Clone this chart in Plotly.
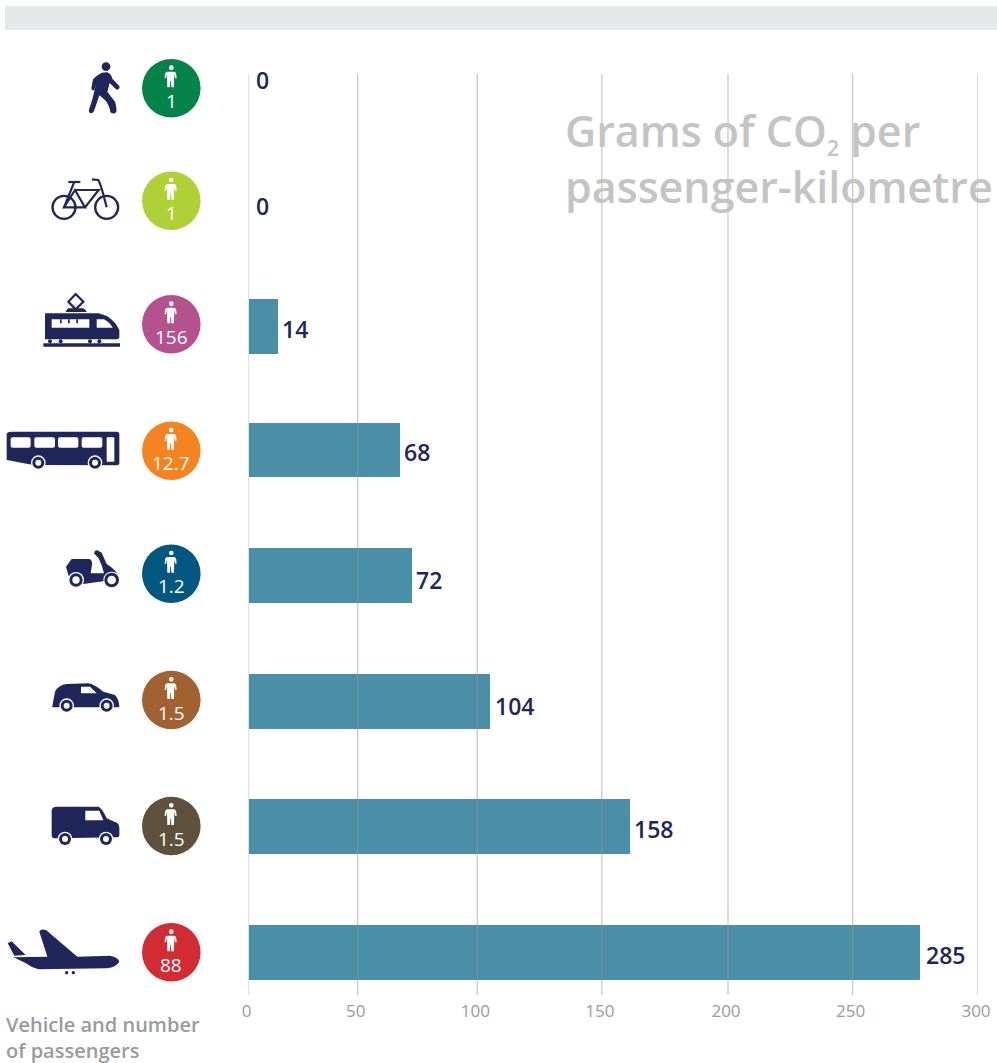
import re
import numpy as np
import plotly.graph_objects as go

# ---------- data ----------
modes = ["Walking", "Cycling", "Train", "Bus", "Scooter", "Car", "Van", "Plane"]
co2_labels = [0, 0, 14, 68, 72, 104, 158, 285]
# bar ends as read against the printed axis ticks
co2_drawn = [0, 0, 13.1, 67.3, 72.3, 105, 160.8, 276.6]
passengers = ["1", "1", "156", "12.7", "1.2", "1.5", "1.5", "88"]
tick_labels = [0, 50, 100, 150, 200, 250, 300]
passenger_colors = ["#05824a", "#afd136", "#b4528f", "#f58420", "#00577f", "#9f6230", "#5d513b", "#d22b33"]

# ---------- layout constants (pixels) ----------
W, H = 997, 1063
NAVY = "#20265a"
PLOT_L, PLOT_R, PLOT_T, PLOT_B = 248.5, 978, 74, 995
tick_offsets = [0, 109.2, 228.8, 353.3, 479.5, 604.1, 729.5]   # printed ticks are unevenly spaced
bar_rows = [80, 207, 326.8, 450, 575.7, 701.3, 826.7, 952.7]
label_rows = [79.5, 206, 329, 451.5, 580, 706, 829, 955]
circle_rows = [88.3, 200.7, 324.3, 450.7, 573.7, 700, 826, 952.3]
CIRCLE_X = 171.3
zero_pad = 5.5


def px(x):
    return x / W


def py(y):
    return 1 - y / H


def to_paper(d, ox, oy, s):
    toks = re.findall(r"[MLQCZ]|-?\d+\.?\d*", d)
    out = []
    pair = []
    for t in toks:
        if t in "MLQCZ":
            out.append(t)
        else:
            pair.append(float(t))
            if len(pair) == 2:
                out.append(f"{px(ox + pair[0] * s):.5f},{py(oy + pair[1] * s):.5f}")
                pair = []
    return " ".join(out)


shapes = []


def path(d, ox=0, oy=0, s=1 / 3, color=NAVY, line=None):
    shapes.append(dict(type="path", xref="paper", yref="paper", path=to_paper(d, ox, oy, s),
                       fillcolor=color if line is None else "rgba(0,0,0,0)",
                       line=dict(width=0 if line is None else line, color=color)))


def circle(cx, cy, r, ox=0, oy=0, s=1 / 3, color=NAVY):
    X, Y, R = ox + cx * s, oy + cy * s, r * s
    shapes.append(dict(type="circle", xref="paper", yref="paper", x0=px(X - R), x1=px(X + R),
                       y0=py(Y + R), y1=py(Y - R), fillcolor=color, line=dict(width=0)))


def wheel(cx, cy, ox, oy, outer=22, mid=18, hub=9):
    circle(cx, cy, outer, ox, oy, color="white")
    circle(cx, cy, mid, ox, oy)
    circle(cx, cy, hub, ox, oy, color="white")


def rrect(x0, y0, x1, y1, r=6):
    return (f"M{x0 + r},{y0} L{x1 - r},{y0} Q{x1},{y0} {x1},{y0 + r} L{x1},{y1 - r} Q{x1},{y1} {x1 - r},{y1} "
            f"L{x0 + r},{y1} Q{x0},{y1} {x0},{y1 - r} L{x0},{y0 + r} Q{x0},{y0} {x0 + r},{y0} Z")


# top band
shapes.append(dict(type="rect", xref="paper", yref="paper", x0=px(5), x1=1, y0=py(30), y1=py(6),
                   fillcolor="#e6e7e8", line=dict(width=0)))

# gridlines (above the bars, semi-transparent)
for off in tick_offsets:
    shapes.append(dict(type="line", xref="x", yref="paper", x0=off, x1=off, y0=py(PLOT_B), y1=py(PLOT_T),
                       line=dict(color="rgba(150,150,150,0.52)", width=1.3), layer="above"))

# walker
circle(318, 200, 13)
path("M305,218 L322,217 Q333,221 337,236 L358,258 Q361,268 350,269 L329,249 L322,275 L345,305 Q351,325 349,336 "
     "Q340,345 331,336 Q328,315 315,300 L298,286 L286,322 L280,337 Q270,345 266,332 L278,295 L288,252 L283,270 "
     "Q276,274 274,265 L279,238 Q290,226 305,218 Z")
# bicycle
for cx in (192, 320):
    circle(cx, 622, 38)
    circle(cx, 622, 31, color="white")
for seg in ["M192,622 L255,622 L225,570 Z", "M225,570 L296,570 L255,622", "M222,548 L192,622",
            "M205,546 L241,546", "M276,538 L294,540 Q301,545 320,622"]:
    path(seg, line=2.2)
# train
path("M227,882 L250,905 L227,928 L205,905 Z", line=2.2)
path("M205,925 L250,925 Q258,928 260,936 L197,936 Q199,928 205,925 Z")
path("M135,940 L296,940 Q340,950 358,990 L358,1012 Q358,1018 350,1018 L135,1018 Z")
path("M155,958 L268,958 L268,983 L155,983 Z", color="white")
for x in (180, 204, 229):
    path(f"M{x},958 L{x + 5},958 L{x + 5},970 L{x},970 Z")
path("M290,958 L312,958 Q330,968 338,983 L290,983 Z", color="white")
path("M130,1030 L360,1030 L360,1040 L130,1040 Z")
for x in (150, 182, 270, 298):
    circle(x, 1024, 6)
# bus
o = (0, 410)
path("M20,72 Q22,65 35,65 L352,65 Q358,66 358,72 L358,160 Q358,166 350,166 L100,165 L20,150 Z", *o)
for a, b in ((32, 92), (103, 165), (174, 235), (245, 307)):
    path(rrect(a, 82, b, 113), *o, color="white")
path(rrect(320, 82, 343, 155, 3), *o, color="white")
wheel(115, 158, *o)
wheel(285, 158, *o)
# scooter
path("M198,470 L215,447 L268,447 Q280,452 275,470 L272,490 L312,490 Q308,470 296,445 L283,431 Q281,422 292,421 "
     "L305,428 L320,462 Q350,480 358,505 L320,512 L250,522 L215,518 L205,495 Z", *o)
wheel(228, 510, *o, outer=24, mid=20, hub=11)
wheel(335, 510, *o, outer=25, mid=22, hub=13)
# car
path("M157,888 L165,845 Q175,825 200,822 L265,820 Q282,822 310,845 L345,855 Q358,870 358,892 L157,892 Z", *o)
path("M243,830 L270,830 L290,850 L243,850 Z", *o, color="white")
wheel(200, 887, *o)
wheel(320, 887, *o)
# van
o = (0, 780)
path("M155,90 Q158,80 170,80 L295,80 Q305,82 320,115 L350,128 Q358,132 358,145 L358,165 Q358,172 350,172 "
     "L165,175 Q155,175 155,165 Z", *o)
path("M256,92 L298,92 L310,121 L256,121 Z", *o, color="white")
wheel(195, 177, *o)
wheel(318, 177, *o)
# plane
path("M40,532 L142,530 L118,455 Q122,445 138,450 L232,530 L330,527 Q355,532 358,545 Q350,560 320,565 L115,568 "
     "Q95,562 75,548 Z", *o)
path("M23,490 L35,484 L77,525 L43,527 Z", *o)
circle(200, 578, 5, *o)
circle(220, 578, 5, *o)

# passenger figures
for cy in circle_rows:
    circle(0, -62, 7, CIRCLE_X, cy, color="white")
    path("M-12,-50 L8,-50 Q14,-49 15,-42 L16,-30 L12,-30 L9,-42 L8,-3 L0,-3 L-1,-22 L-3,-22 L-4,-3 L-12,-3 L-13,-42 "
         "L-16,-30 L-20,-30 L-19,-42 Q-18,-49 -12,-50 Z", CIRCLE_X, cy, color="white")

# ---------- traces ----------
bar_x = np.interp(co2_drawn, tick_labels, tick_offsets)

fig = go.Figure()
fig.add_trace(go.Bar(x=bar_x, y=bar_rows, width=54.7, orientation="h", name="g CO2 per passenger-km",
                     customdata=modes, marker=dict(color="#4a8ea8", line=dict(width=0)),
                     hovertemplate="%{customdata}<extra></extra>"))
fig.add_trace(go.Scatter(x=[CIRCLE_X] * len(modes), y=circle_rows, xaxis="x2", mode="markers",
                         marker=dict(size=58.6, color=passenger_colors, line=dict(width=0)),
                         customdata=modes, hovertemplate="%{customdata}<extra></extra>", cliponaxis=False))

annotations = []
for m, lab, x, y in zip(modes, co2_labels, bar_x, label_rows):
    annotations.append(dict(x=x, y=y, xref="x", yref="y", text=str(lab), showarrow=False, xanchor="left",
                            yanchor="middle", xshift=zero_pad if lab == 0 else (5 if lab == 285 else 3),
                            font=dict(family="Open Sans", size=23, color=NAVY, weight=600)))
for n, y in zip(passengers, circle_rows):
    annotations.append(dict(x=CIRCLE_X, y=y + 12.5, xref="x2", yref="y", text=n, showarrow=False,
                            yanchor="middle", font=dict(family="Open Sans", size=19, color="white")))

TITLE = dict(family="Open Sans", size=43, color="#c4c4c4", weight=600)
annotations += [
    dict(x=px(562.5), y=py(158), xref="paper", yref="paper", xanchor="left", yanchor="middle", align="left",
         text='Grams of CO<sub><span style="font-size:21px">2</span></sub> per<br>passenger-kilometre',
         showarrow=False, font=TITLE),
    dict(x=px(4.5), y=py(1037.5), xref="paper", yref="paper", xanchor="left", yanchor="middle", align="left",
         text="Vehicle and number<br>of passengers", showarrow=False, borderpad=0,
         font=dict(family="Open Sans", size=20, color="#9a9b9d", weight=600)),
]

fig.update_layout(
    width=W, height=H, autosize=False, margin=dict(l=0, r=0, t=0, b=0, pad=0, autoexpand=False),
    plot_bgcolor="white", paper_bgcolor="white", showlegend=False, bargap=0,
    font=dict(family="Open Sans"),
    xaxis=dict(domain=[px(PLOT_L), px(PLOT_R)], range=[0, tick_offsets[-1]], tickmode="array",
               tickvals=tick_offsets, ticktext=[str(t) for t in tick_labels], showgrid=False, zeroline=False,
               showline=False, ticks="", ticklabelshift=-2, ticklabelstandoff=4, automargin=False,
               tickfont=dict(family="Open Sans", size=17, color="#9a9b9d")),
    xaxis2=dict(domain=[0, px(PLOT_L) - 0.001], range=[0, PLOT_L - 1], visible=False, anchor="y"),
    yaxis=dict(domain=[py(PLOT_B), py(PLOT_T)], range=[PLOT_B, PLOT_T], visible=False),
    shapes=shapes, annotations=annotations,
)

fig.write_html("out.html", config={"displayModeBar": False, "responsive": False},
               post_script="document.body.style.margin='0';document.body.style.overflow='hidden';")
